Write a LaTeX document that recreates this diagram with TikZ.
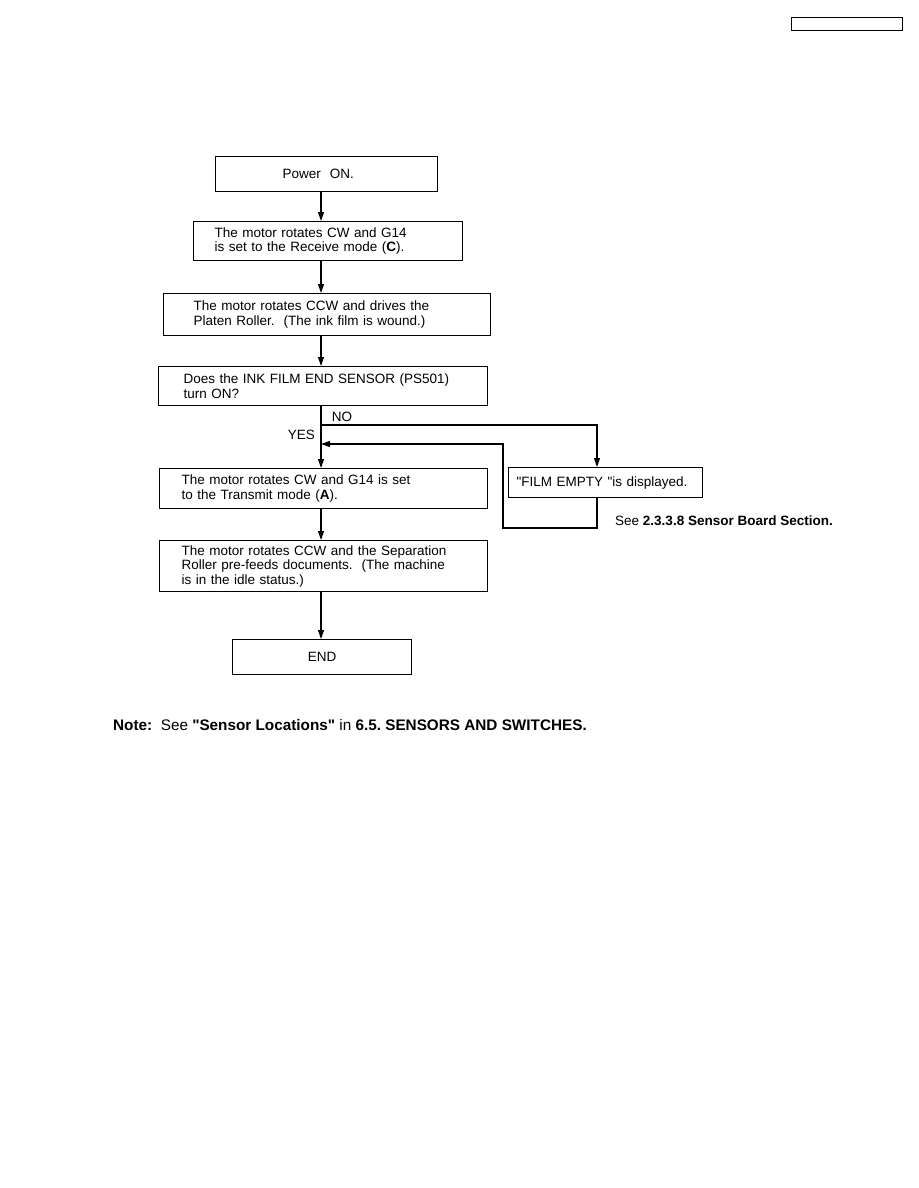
\documentclass[tikz,border=0pt]{standalone}
\usepackage{fontspec}
\setmainfont{Liberation Sans}[Ligatures=TeXOff]
\usetikzlibrary{arrows.meta,positioning,calc}
\newcommand{\qt}{\symbol{34}}
\frenchspacing

\begin{document}
\begin{tikzpicture}[
  x=1pt, y=-1pt,
  font=\fontsize{13.5}{14.5}\selectfont,
  box/.style n args={3}{draw, line width=1.2pt, anchor=north west, align=left,
    text width=#1, minimum height=#2, inner xsep=#3, inner ysep=0pt},
  arr/.style={-{Triangle[length=9pt, width=6pt]}, line width=1.1pt}
]
  \useasboundingbox (0,0) rectangle (918,1188);

  % page tag, top right
  \node[draw, line width=1.2pt, anchor=north west, minimum width=111pt,
    minimum height=13pt, inner sep=0pt] (tag) at (791,17) {};

  \node[box={88pt}{35pt}{67pt}] (pwr) at (215,156) {Power\ \ ON.};
  \node[box={227pt}{39pt}{21pt}] (rcv) at (193,221)
    {The motor rotates CW and G14\\is set to the Receive mode (\textbf{C}).};
  \node[box={267pt}{42pt}{30pt}] (roll) at (163,293)
    {The motor rotates CCW and drives the\\Platen Roller.\ \ (The ink film is wound.)};
  \node[box={279pt}{39pt}{25pt}] (dec) at (158,366)
    {Does the INK FILM END SENSOR (PS501)\\turn ON?};
  \node[box={284pt}{40pt}{22pt}] (tx) at (159,468)
    {The motor rotates CW and G14 is set\\to the Transmit mode (\textbf{A}).};
  \node[box={284pt}{51pt}{22pt}] (sep) at (159,540)
    {The motor rotates CCW and the Separation\\Roller pre-feeds documents.\ \ (The machine\\is in the idle status.)};
  \node[box={159pt}{35pt}{10pt}, align=center] (fin) at (232,639) {END};
  \node[box={178pt}{30pt}{8pt}] (empty) at (508,467)
    {\qt FILM EMPTY \qt is displayed.};

  % flow axis and branch points
  \coordinate (axis) at (321,0);
  \coordinate (nosplit) at (321,425);
  \coordinate (noturn) at (597,425);
  \coordinate (back) at (503,528);
  \coordinate (yesjoin) at (321,444);

  \draw[arr] (pwr.south -| axis) -- (rcv.north -| axis);
  \draw[arr] (rcv.south -| axis) -- (roll.north -| axis);
  \draw[arr] (roll.south -| axis) -- (dec.north -| axis);
  \draw[arr] (dec.south -| axis) -- (tx.north -| axis);
  \draw[arr] (tx.south -| axis) -- (sep.north -| axis);
  \draw[arr] (sep.south -| axis) -- (fin.north -| axis);

  % NO branch and return
  \draw[arr] (nosplit) -- (noturn) -- (noturn |- empty.north);
  \draw[arr] (empty.south -| noturn) |- (back) |- (yesjoin);

  \node (no) at (342,417) {NO};
  \node[anchor=east, inner sep=0pt] (yes) at (315,435) {YES};

  \node[anchor=base west, inner sep=0pt] (see) at (615,525)
    {See \textbf{2.3.3.8 Sensor Board Section.}};

  \node[anchor=base west, inner sep=0pt, font=\fontsize{15.3}{16}\selectfont] (note) at (113,730)
    {\textbf{Note:}\ \ See \textbf{\qt Sensor Locations\qt} in \textbf{6.5. SENSORS AND SWITCHES.}};
\end{tikzpicture}
\end{document}
